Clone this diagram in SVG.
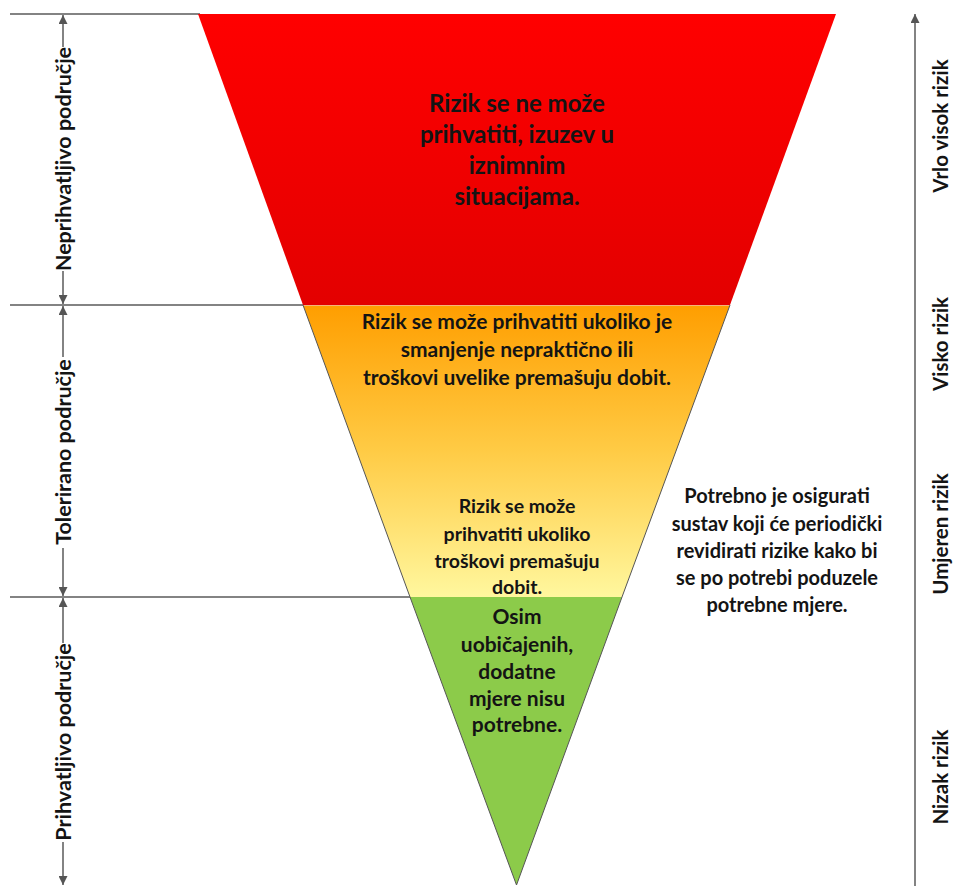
<svg xmlns="http://www.w3.org/2000/svg" width="954" height="886" viewBox="0 0 954 886">
<defs>
<linearGradient id="gRed" x1="0" y1="14" x2="0" y2="305" gradientUnits="userSpaceOnUse">
<stop offset="0" stop-color="#FF0000"/>
<stop offset="1" stop-color="#E30000"/>
</linearGradient>
<linearGradient id="gOr" x1="0" y1="305" x2="0" y2="597" gradientUnits="userSpaceOnUse">
<stop offset="0" stop-color="#FF9E00"/>
<stop offset="0.5" stop-color="#FFCB45"/>
<stop offset="1" stop-color="#FFF79E"/>
</linearGradient>
<marker id="ah" viewBox="0 0 10 10" refX="10" refY="5" markerWidth="9" markerHeight="9" markerUnits="userSpaceOnUse" orient="auto">
<path d="M0,0 L10,5 L0,10 z" fill="#555"/>
</marker>
<style>
.t{font-family:Lato,"Liberation Sans",sans-serif;font-weight:bold;fill:#141414;text-anchor:middle}
.big{font-size:24px}
.top{font-size:21px}
.yel{font-size:19.5px}
.grn{font-size:21px}
.note{font-size:20px}
.lab{font-family:Lato,"Liberation Sans",sans-serif;font-weight:bold;fill:#141414;text-anchor:middle;dominant-baseline:central;font-size:21.5px}
.ax{font-size:20.5px}
.ln{stroke:#5a5a5a;stroke-width:1.5;fill:none}
.edge{stroke:#555;stroke-width:1;fill:none}
</style>
</defs>
<rect width="954" height="886" fill="#fff"/>

<g id="connectors">
<line class="ln" x1="10" y1="14" x2="200" y2="14"/>
<line class="ln" x1="10" y1="305" x2="304" y2="305"/>
<line class="ln" x1="10" y1="597" x2="411" y2="597"/>
<line class="ln" x1="63" y1="47" x2="63" y2="15" marker-end="url(#ah)"/>
<line class="ln" x1="63" y1="271" x2="63" y2="304" marker-end="url(#ah)"/>
<line class="ln" x1="63" y1="357" x2="63" y2="306" marker-end="url(#ah)"/>
<line class="ln" x1="63" y1="548" x2="63" y2="596" marker-end="url(#ah)"/>
<line class="ln" x1="63" y1="643" x2="63" y2="598" marker-end="url(#ah)"/>
<line class="ln" x1="63" y1="842" x2="63" y2="885" marker-end="url(#ah)"/>
<line class="ln" x1="915" y1="886" x2="915" y2="14" marker-end="url(#ah)"/>
</g>

<g id="zone-red">
<polygon points="198,14 836,14 730,305 303,305" fill="url(#gRed)"/>
<text class="t big" x="517" y="112">Rizik se ne može</text>
<text class="t big" x="517" y="143">prihvatiti, izuzev u</text>
<text class="t big" x="517" y="174">iznimnim</text>
<text class="t big" x="517" y="205">situacijama.</text>
</g>

<g id="zone-orange">
<polygon points="303,305 730,305 622,597 410,597" fill="url(#gOr)"/>
<line x1="303" y1="305.5" x2="730" y2="305.5" stroke="#F5B57A" stroke-width="1"/>
<polyline class="edge" points="303,305 410,597"/>
<polyline class="edge" points="730,305 622,597"/>
<text class="t top" x="517" y="329">Rizik se može prihvatiti ukoliko je</text>
<text class="t top" x="517" y="357">smanjenje nepraktično ili</text>
<text class="t top" x="517" y="385">troškovi uvelike premašuju dobit.</text>
<text class="t yel" x="517" y="513">Rizik se može</text>
<text class="t yel" x="517" y="541">prihvatiti ukoliko</text>
<text class="t yel" x="517" y="568">troškovi premašuju</text>
<text class="t yel" x="517" y="594">dobit.</text>
</g>

<g id="zone-green">
<polygon points="410,597 622,597 516.5,885" fill="#8CCB4A"/>
<polyline class="edge" points="410,597 516.5,885 622,597"/>
<text class="t grn" x="517" y="624">Osim</text>
<text class="t grn" x="517" y="652">uobičajenih,</text>
<text class="t grn" x="517" y="679">dodatne</text>
<text class="t grn" x="517" y="706">mjere nisu</text>
<text class="t grn" x="517" y="732">potrebne.</text>
</g>

<g id="note">
<text class="t note" x="777" y="503">Potrebno je osigurati</text>
<text class="t note" x="777" y="531">sustav koji će periodički</text>
<text class="t note" x="777" y="558">revidirati rizike kako bi</text>
<text class="t note" x="777" y="585">se po potrebi poduzele</text>
<text class="t note" x="777" y="612">potrebne mjere.</text>
</g>

<g id="label-neprihvatljivo">
<text class="lab" transform="translate(63,159) rotate(-90)">Neprihvatljivo područje</text>
</g>
<g id="label-tolerirano">
<text class="lab" transform="translate(63,452) rotate(-90)">Tolerirano područje</text>
</g>
<g id="label-prihvatljivo">
<text class="lab" transform="translate(63,742) rotate(-90)">Prihvatljivo područje</text>
</g>

<g id="axis-labels">
<text class="lab ax" transform="translate(940,126) rotate(-90)">Vrlo visok rizik</text>
<text class="lab ax" transform="translate(940,344) rotate(-90)">Visko rizik</text>
<text class="lab ax" transform="translate(940,534) rotate(-90)">Umjeren rizik</text>
<text class="lab ax" transform="translate(940,777) rotate(-90)">Nizak rizik</text>
</g>
</svg>
